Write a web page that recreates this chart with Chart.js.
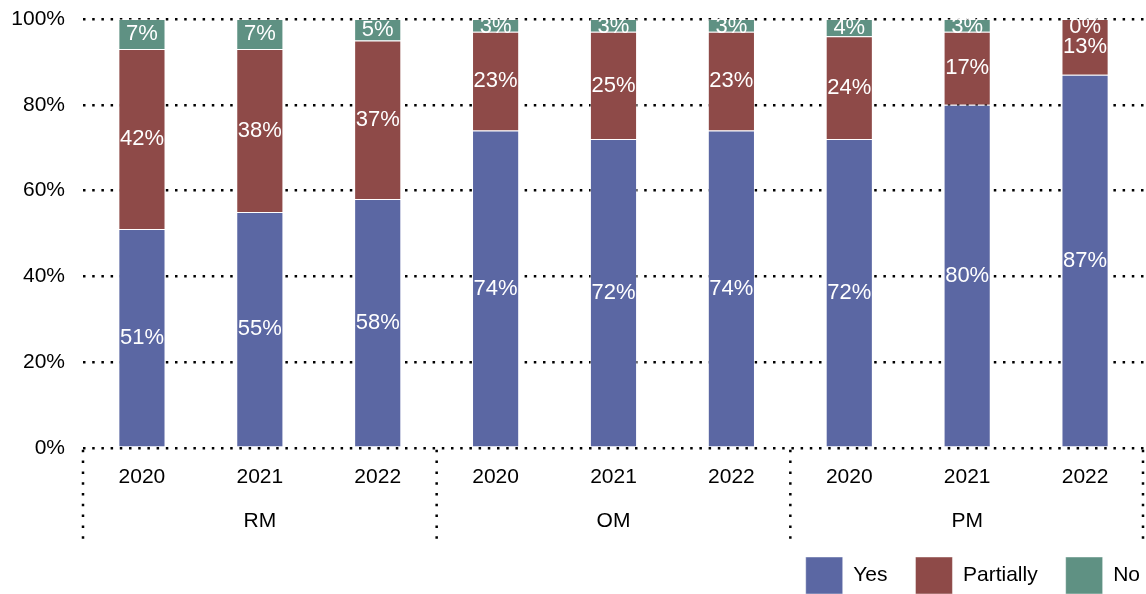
<!DOCTYPE html>
<html><head><meta charset="utf-8">
<script src="https://cdn.jsdelivr.net/npm/chart.js@4"></script>
<style>html,body{margin:0;padding:0;background:#fff;overflow:hidden}</style>
</head><body>
<canvas id="c" width="1146" height="594"></canvas>
<script>
const years = ['2020','2021','2022','2020','2021','2022','2020','2021','2022'];
const groups = ['RM','OM','PM'];
const yesValues = [51,55,58,74,72,74,72,80,87];
const partiallyValues = [42,38,37,23,25,23,24,17,13];
const noValues = [7,7,5,3,3,3,4,3,0];
const seriesNames = ['Yes','Partially','No'];
const seriesColors = ['#5b67a3','#8e4a48','#5f9183'];

const FONT = 'Helvetica, "Liberation Sans", Arial, sans-serif';

const groupSeparators = {
  id: 'groupSeparators',
  afterDraw(chart) {
    const x = chart.scales.x, x2 = chart.scales.x2, ctx = chart.ctx;
    const per = years.length / groups.length;
    ctx.save();
    ctx.strokeStyle = '#000';
    ctx.lineWidth = 2.5;
    ctx.setLineDash([2.5, 8.3]);
    for (let g = 0; g <= groups.length; g++) {
      let px;
      if (g === 0) px = x.left;
      else if (g === groups.length) px = x.right - 1;
      else px = (x.getPixelForValue(g * per - 1) + x.getPixelForValue(g * per)) / 2;
      ctx.beginPath();
      ctx.moveTo(px, chart.chartArea.bottom + 2);
      ctx.lineTo(px, x2.bottom + 11);
      ctx.stroke();
    }
    ctx.restore();
  }
};

const segmentLabels = {
  id: 'segmentLabels',
  afterDatasetsDraw(chart) {
    const ctx = chart.ctx, top = chart.chartArea.top;
    ctx.save();
    ctx.font = '22px ' + FONT;
    ctx.fillStyle = '#fff';
    ctx.textAlign = 'center';
    ctx.textBaseline = 'middle';
    chart.data.datasets.forEach((ds, i) => {
      const meta = chart.getDatasetMeta(i);
      meta.data.forEach((bar, j) => {
        const p = bar.getProps(['x', 'y', 'base'], true);
        let cy = (p.y + p.base) / 2;
        cy = Math.max(cy, top + 8);
        ctx.fillText(ds.data[j] + '%', p.x, cy);
      });
    });
    ctx.restore();
  }
};

const legendShift = {
  id: 'legendShift',
  afterLayout(chart) {
    chart.legend.left += 24;
    chart.legend.right += 24;
  }
};

const datasets = [yesValues, partiallyValues, noValues].map((vals, i) => ({
  label: seriesNames[i],
  data: vals,
  backgroundColor: seriesColors[i],
  borderColor: 'rgba(255,255,255,0.45)',
  borderWidth: 1,
  barPercentage: 0.4,
  categoryPercentage: 1.0
}));

new Chart(document.getElementById('c'), {
  type: 'bar',
  data: { labels: years, datasets },
  options: {
    responsive: false,
    animation: false,
    layout: { padding: { top: 0, right: 2, left: 12, bottom: -10 } },
    plugins: {
      tooltip: { enabled: false },
      legend: {
        position: 'bottom',
        align: 'end',
        labels: {
          boxWidth: 37, boxHeight: 37, padding: 28,
          color: '#000', font: { size: 21, family: FONT }
        }
      }
    },
    scales: {
      x: {
        stacked: true,
        offset: true,
        grid: { display: false, drawTicks: false },
        border: { display: false },
        ticks: { color: '#000', padding: 16.5, font: { size: 21, family: FONT } }
      },
      x2: {
        type: 'category',
        labels: groups,
        position: 'bottom',
        offset: true,
        grid: { display: false, drawTicks: false },
        border: { display: false },
        ticks: { color: '#000', padding: 2.5, font: { size: 21, family: FONT } },
        afterFit: s => { s.height = 23; }
      },
      y: {
        stacked: true,
        min: 0, max: 100,
        ticks: { stepSize: 20, color: '#000', padding: 18, font: { size: 21, family: FONT },
                 callback: v => v + '%' },
        grid: { color: '#000', lineWidth: 2.5, drawTicks: false },
        border: { display: false, dash: [2.5, 6.7] },
        afterFit: s => { s.width = 71; s.paddingTop = 19; }
      }
    }
  },
  plugins: [groupSeparators, segmentLabels, legendShift]
});
</script>
</body></html>
